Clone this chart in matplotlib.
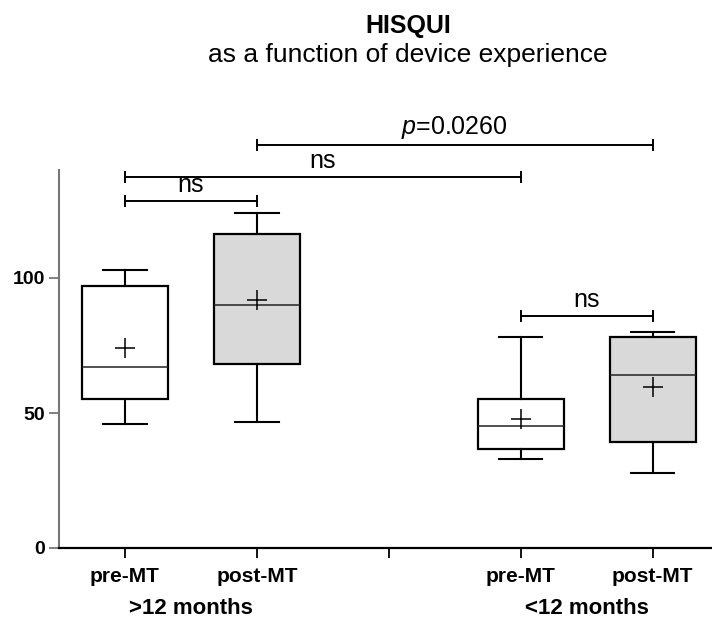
import numpy as np
import matplotlib
matplotlib.use('Agg')
import matplotlib.pyplot as plt

plt.rcParams['font.family'] = ['Liberation Sans', 'DejaVu Sans']
plt.rcParams['mathtext.fontset'] = 'custom'
plt.rcParams['mathtext.it'] = 'Liberation Sans:italic'
plt.rcParams['mathtext.rm'] = 'Liberation Sans'

## ==========Data
labels = ['pre-MT', 'post-MT', 'pre-MT', 'post-MT']
positions = [0, 1, 3, 4]
whislo = [45.9, 46.8, 32.9, 27.9]
q1 = [55.2, 68.3, 36.8, 39.3]
med = [66.9, 90.0, 45.3, 64.0]
q3 = [97.1, 116.3, 55.2, 78.1]
whishi = [103.0, 124.2, 78.0, 79.9]
means = [74.2, 91.9, 47.7, 59.5]
fills = ['white', '#d9d9d9', 'white', '#d9d9d9']

groups = ['>12 months', '<12 months']
group_pos = [0.5, 3.5]

# comparisons: (left, right, height, text)
comp_left = [0, 0, 1, 3]
comp_right = [1, 3, 4, 4]
comp_y = [128.5, 137.4, 149.3, 85.9]
comp_txt = ['ns', 'ns', '$p$=0.0260', 'ns']

## ==========Figure
fig = plt.figure(figsize=(7.12, 6.22), dpi=100)
ax = fig.add_axes([59/712, 74/622, 653/712, 378/622])

stats = []
for i in range(len(labels)):
    stats.append(dict(med=med[i], q1=q1[i], q3=q3[i], whislo=whislo[i],
                      whishi=whishi[i], mean=means[i], fliers=[]))

bp = ax.bxp(stats, positions=positions, widths=0.65, capwidths=0.33,
            showmeans=True, patch_artist=True,
            boxprops=dict(color='black', linewidth=1.6),
            whiskerprops=dict(color='black', linewidth=1.5),
            capprops=dict(color='black', linewidth=1.5),
            medianprops=dict(color='#222222', linewidth=1.1),
            meanprops=dict(marker='+', markersize=14, markeredgecolor='black',
                           markeredgewidth=1.1))
for patch, c in zip(bp['boxes'], fills):
    patch.set_facecolor(c)

ax.set_xlim(-0.5, 4.45)
ax.set_ylim(0, 140)
ax.set_yticks([0, 50, 100])
ax.set_xticks([0, 1, 2, 3, 4])
ax.set_xticklabels([labels[0], labels[1], '', labels[2], labels[3]],
                   fontsize=15, fontweight='bold')
for t in ax.get_yticklabels():
    t.set_fontsize(14)
    t.set_fontweight('bold')

ax.spines['top'].set_visible(False)
ax.spines['right'].set_visible(False)
ax.spines['left'].set_color('#777777')
ax.spines['left'].set_linewidth(1.5)
ax.spines['bottom'].set_linewidth(1.6)
ax.tick_params(axis='y', length=7, width=1.3, color='#777777', pad=3)
ax.tick_params(axis='x', length=7, width=1.3, pad=7)

for g, gp in zip(groups, group_pos):
    ax.text(gp, -0.161, g, transform=ax.get_xaxis_transform(), ha='center',
            va='center', fontsize=16, fontweight='bold')

## ==========Significance brackets
for l, r, h, s in zip(comp_left, comp_right, comp_y, comp_txt):
    ax.plot([l, r], [h, h], color='black', lw=1.4, marker='|', ms=9,
            mew=1.4, clip_on=False)
    ax.text((l + r) / 2, h + 1.5, s, ha='center', va='bottom', fontsize=18)

## ==========Title
fig.text(408/712, 1 - 33/622, 'HISQUI', ha='center', va='baseline',
         fontsize=18, fontweight='bold')
fig.text(408/712, 1 - 62/622, 'as a function of device experience',
         ha='center', va='baseline', fontsize=19)

fig.savefig('out.png', dpi=100)
